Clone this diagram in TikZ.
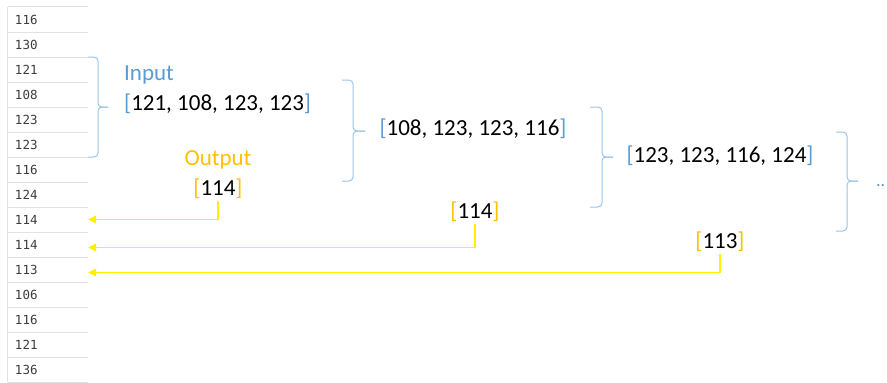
\documentclass[tikz,border=0pt]{standalone}
\usepackage{fontspec}
\setmainfont{Carlito}
\newfontfamily\cellfont{DejaVu Sans Mono}
\usepackage{tikz}
\usetikzlibrary{arrows.meta}

\definecolor{inblue}{RGB}{91,155,213}
\definecolor{bracecol}{RGB}{157,195,230}
\definecolor{outorange}{RGB}{255,192,0}
\definecolor{feedyellow}{RGB}{255,240,0}
\definecolor{gridgray}{RGB}{226,226,226}
\definecolor{celltext}{RGB}{60,60,60}

\newcommand\inwin[1]{\textcolor{inblue}{[}#1\textcolor{inblue}{]}}
\newcommand\outval[1]{\textcolor{outorange}{[}#1\textcolor{outorange}{]}}
% brace: x of arm ends, spine and tip, then top, middle and bottom y
\def\winbrace(#1,#2,#3)(#4,#5,#6){
	\draw[bracecol, line width=1pt, rounded corners=4] (#1,#4) -| (#2,#5) -- (#3,#5);
	\draw[bracecol, line width=1pt, rounded corners=4] (#1,#6) -| (#2,#5) -- (#3,#5);
}

\tikzset{
	cell/.style={minimum width=80, minimum height=25, inner xsep=7, inner ysep=0,
		text width=66, align=left, font=\cellfont\fontsize{12.5}{14}\selectfont, text=celltext},
	grid/.style={gridgray, line width=1.2pt},
	lbl/.style={font=\fontsize{23}{27}\selectfont, inner sep=2},
	feed/.style={feedyellow, line width=1.3pt, -{Triangle[length=8pt,width=8pt]}},
}

\begin{document}
\begin{tikzpicture}[x=1pt, y=-1pt]
	\useasboundingbox (0,0) rectangle (887,383);
	
	%%%%% table of values %%%%%
	\foreach \v [count=\i] in {116,130,121,108,123,123,116,124,114,114,113,106,116,121,136}
		\node[cell] (r\i) at (48, {19.5+25*(\i-1)}) {\v};
	\draw[grid] (r1.north west) -- (r1.north east);
	\foreach \i in {1,...,15}
		\draw[grid] (r\i.south west) -- (r\i.south east);
	\draw[grid] (r1.north west) -- (r15.south west);
	
	%%%%% windows %%%%%
	\winbrace(88,98,108)(57,107,157)
	\winbrace(342,353,365)(80,131,181)
	\winbrace(590,602,613)(107,157,207)
	\winbrace(836,847,858)(132,181,231)
	
	\node[lbl, anchor=west, text=inblue] (inlbl) at (122,75) {Input};
	\node[lbl, anchor=west] (win1) at (122,104) {\inwin{121, 108, 123, 123}};
	\node[lbl, text=outorange] (outlbl) at (218,160) {Output};
	\node[lbl] (out1) at (218,189) {\outval{114}};
	
	\node[lbl] (win2) at (473,129) {\inwin{108, 123, 123, 116}};
	\node[lbl] (out2) at (475,212) {\outval{114}};
	
	\node[lbl] (win3) at (720,156) {\inwin{123, 123, 116, 124}};
	\node[lbl] (out3) at (720,242) {\outval{113}};
	
	\node[lbl, anchor=west, text=inblue, font=\fontsize{18}{20}\selectfont] (more) at (874,186) {..};
	
	%%%%% outputs back into the table %%%%%
	\draw[feed] (out1.south) |- (r9.east);
	\draw[feed] (out2.south) |- ([yshift=-3]r10.east);
	\draw[feed] (out3.south) |- ([yshift=-3]r11.east);
\end{tikzpicture}
\end{document}
